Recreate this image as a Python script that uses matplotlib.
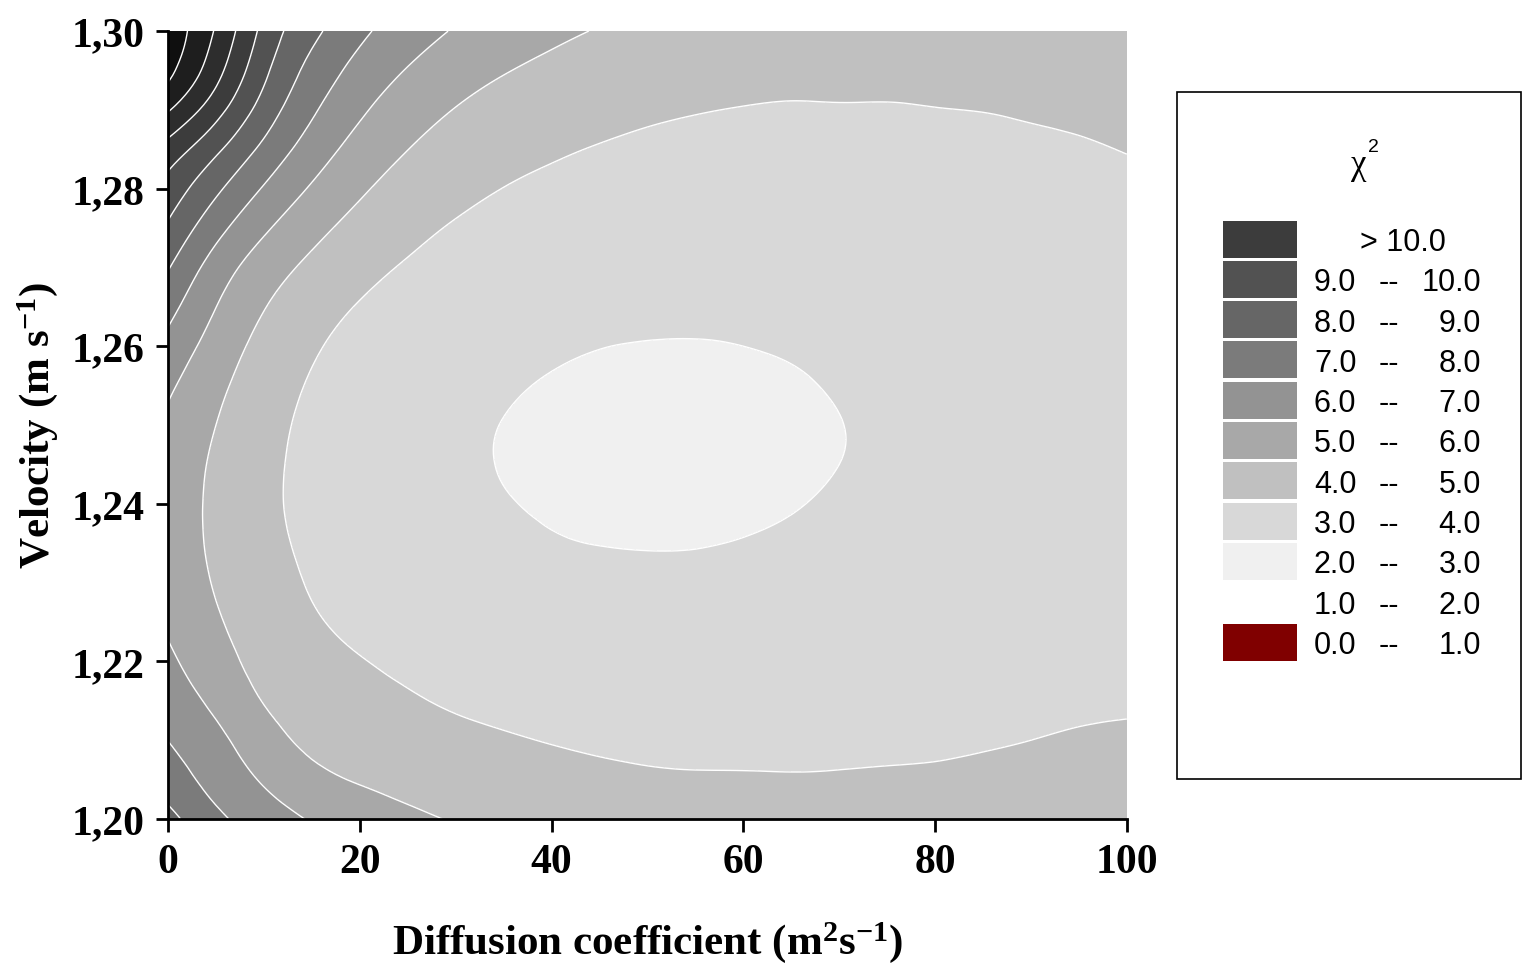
import numpy as np
import matplotlib
matplotlib.use("Agg")
import matplotlib.pyplot as plt
import matplotlib.tri as mtri
from matplotlib.patches import Rectangle

# Chi-square surface over diffusion coefficient (columns) and velocity (rows)
diffusion = [0, 5, 10, 15, 20, 25, 30, 35, 40, 45, 50, 55, 60, 65, 70, 75, 80, 85, 90, 95, 100]
velocity = [1.200, 1.205, 1.210, 1.215, 1.220, 1.225, 1.230, 1.235, 1.240, 1.245, 1.250,
            1.255, 1.260, 1.265, 1.270, 1.275, 1.280, 1.285, 1.290, 1.295, 1.300]
chi2 = [
    [8.32, 7.22, 6.50, 5.92, 5.48, 5.17, 4.94, 4.73, 4.56, 4.43, 4.33, 4.26, 4.21, 4.20, 4.21, 4.23, 4.26, 4.30, 4.36, 4.42, 4.45],
    [7.52, 6.65, 5.90, 5.28, 4.93, 4.72, 4.54, 4.38, 4.25, 4.15, 4.08, 4.05, 4.04, 4.03, 4.04, 4.06, 4.08, 4.12, 4.18, 4.24, 4.28],
    [6.99, 6.24, 5.41, 4.78, 4.50, 4.34, 4.19, 4.07, 3.97, 3.90, 3.86, 3.85, 3.86, 3.87, 3.88, 3.89, 3.91, 3.95, 4.00, 4.06, 4.09],
    [6.56, 5.77, 4.96, 4.46, 4.23, 4.07, 3.92, 3.81, 3.73, 3.69, 3.66, 3.66, 3.68, 3.69, 3.71, 3.73, 3.76, 3.79, 3.84, 3.89, 3.93],
    [6.18, 5.38, 4.68, 4.25, 4.03, 3.86, 3.71, 3.60, 3.53, 3.50, 3.48, 3.48, 3.50, 3.53, 3.55, 3.58, 3.62, 3.65, 3.70, 3.74, 3.78],
    [5.87, 5.11, 4.50, 4.08, 3.84, 3.67, 3.52, 3.42, 3.35, 3.32, 3.31, 3.31, 3.33, 3.36, 3.41, 3.45, 3.49, 3.53, 3.57, 3.62, 3.65],
    [5.64, 4.93, 4.36, 3.94, 3.67, 3.49, 3.36, 3.26, 3.19, 3.16, 3.14, 3.13, 3.16, 3.21, 3.27, 3.33, 3.37, 3.42, 3.47, 3.51, 3.55],
    [5.49, 4.84, 4.26, 3.83, 3.54, 3.35, 3.22, 3.13, 3.04, 2.99, 2.97, 2.98, 3.02, 3.09, 3.16, 3.22, 3.28, 3.33, 3.38, 3.42, 3.46],
    [5.48, 4.82, 4.21, 3.75, 3.45, 3.26, 3.13, 3.03, 2.94, 2.89, 2.86, 2.87, 2.90, 2.97, 3.07, 3.15, 3.21, 3.27, 3.32, 3.36, 3.40],
    [5.60, 4.86, 4.23, 3.75, 3.43, 3.22, 3.09, 2.98, 2.89, 2.84, 2.81, 2.81, 2.85, 2.91, 3.00, 3.10, 3.17, 3.23, 3.28, 3.32, 3.36],
    [5.82, 5.00, 4.32, 3.80, 3.46, 3.24, 3.10, 2.99, 2.90, 2.84, 2.81, 2.81, 2.84, 2.90, 2.99, 3.09, 3.17, 3.23, 3.28, 3.32, 3.35],
    [6.17, 5.23, 4.48, 3.92, 3.55, 3.31, 3.16, 3.06, 2.96, 2.90, 2.87, 2.86, 2.89, 2.95, 3.04, 3.12, 3.19, 3.25, 3.30, 3.35, 3.38],
    [6.70, 5.58, 4.71, 4.11, 3.71, 3.45, 3.28, 3.17, 3.08, 3.01, 2.98, 2.97, 3.00, 3.05, 3.12, 3.19, 3.25, 3.31, 3.36, 3.40, 3.44],
    [7.34, 6.01, 5.04, 4.39, 3.95, 3.65, 3.45, 3.31, 3.21, 3.15, 3.13, 3.14, 3.15, 3.18, 3.23, 3.28, 3.33, 3.39, 3.44, 3.48, 3.52],
    [8.07, 6.56, 5.50, 4.79, 4.28, 3.92, 3.67, 3.50, 3.39, 3.32, 3.29, 3.29, 3.30, 3.32, 3.35, 3.39, 3.44, 3.49, 3.54, 3.58, 3.62],
    [8.85, 7.34, 6.15, 5.30, 4.68, 4.24, 3.93, 3.73, 3.59, 3.51, 3.46, 3.45, 3.45, 3.46, 3.49, 3.52, 3.56, 3.60, 3.65, 3.70, 3.74],
    [9.62, 8.20, 6.92, 5.90, 5.14, 4.60, 4.24, 3.99, 3.83, 3.72, 3.65, 3.62, 3.61, 3.62, 3.64, 3.66, 3.69, 3.73, 3.78, 3.82, 3.87],
    [10.62, 9.20, 7.76, 6.54, 5.64, 5.01, 4.58, 4.30, 4.10, 3.96, 3.86, 3.81, 3.79, 3.79, 3.80, 3.82, 3.84, 3.87, 3.91, 3.95, 4.02],
    [12.09, 10.38, 8.58, 7.15, 6.15, 5.46, 4.97, 4.65, 4.42, 4.25, 4.12, 4.03, 3.98, 3.96, 3.97, 3.97, 3.99, 4.01, 4.05, 4.10, 4.18],
    [13.26, 11.36, 9.23, 7.70, 6.67, 5.95, 5.42, 5.05, 4.79, 4.58, 4.42, 4.29, 4.21, 4.15, 4.13, 4.13, 4.15, 4.19, 4.22, 4.27, 4.34],
    [13.62, 11.90, 9.72, 8.25, 7.22, 6.48, 5.92, 5.50, 5.19, 4.95, 4.74, 4.58, 4.46, 4.37, 4.31, 4.30, 4.33, 4.37, 4.42, 4.47, 4.50],
]

levels = list(range(0, 15))
fill_colors = ["#800000", "#ffffff", "#f0f0f0", "#d8d8d8", "#c0c0c0", "#a8a8a8", "#939393",
               "#7b7b7b", "#666666", "#525252", "#3c3c3c", "#2d2d2d", "#1e1e1e", "#0f0f0f"]

# legend classes
leg_lo = ["", "9.0", "8.0", "7.0", "6.0", "5.0", "4.0", "3.0", "2.0", "1.0", "0.0"]
leg_hi = ["", "10.0", "9.0", "8.0", "7.0", "6.0", "5.0", "4.0", "3.0", "2.0", "1.0"]
leg_col = ["#3c3c3c", "#525252", "#666666", "#7b7b7b", "#939393", "#a8a8a8",
           "#c0c0c0", "#d8d8d8", "#f0f0f0", "#ffffff", "#800000"]

yticks = [1.20, 1.22, 1.24, 1.26, 1.28, 1.30]
ytick_labels = ["1,20", "1,22", "1,24", "1,26", "1,28", "1,30"]
xticks = [0, 20, 40, 60, 80, 100]

plt.rcParams["mathtext.fontset"] = "custom"
plt.rcParams["mathtext.rm"] = "Liberation Serif:bold"
plt.rcParams["mathtext.it"] = "Liberation Serif:bold"
plt.rcParams["mathtext.bf"] = "Liberation Serif:bold"

fig = plt.figure(figsize=(15.3, 9.7), dpi=100)
ax = fig.add_axes([168 / 1530, 1 - 820 / 970, (1127 - 168) / 1530, (820 - 32) / 970])

# grid -> triangles, then cubic refinement for smooth contours
Z = np.array(chi2)
GD, GV = np.meshgrid(diffusion, velocity)
ny, nx = Z.shape
tris = []
for i in range(ny - 1):
    for j in range(nx - 1):
        k = i * nx + j
        tris.append([k, k + 1, k + nx + 1])
        tris.append([k, k + nx + 1, k + nx])
tri = mtri.Triangulation(GD.ravel(), (GV.ravel() - 1.2) * 1000, np.array(tris))
tri_r, z_r = mtri.UniformTriRefiner(tri).refine_field(Z.ravel(), subdiv=3)
tri_v = mtri.Triangulation(tri_r.x, 1.2 + tri_r.y / 1000, tri_r.triangles)

ax.tricontourf(tri_v, z_r, levels=levels, colors=fill_colors)
ax.tricontour(tri_v, z_r, levels=levels[1:], colors="white", linewidths=1.0)

ax.set_xlim(0, 100)
ax.set_ylim(1.20, 1.30)
for s in ["top", "right"]:
    ax.spines[s].set_visible(False)
for s in ["left", "bottom"]:
    ax.spines[s].set_linewidth(2)
ax.set_xticks(xticks)
ax.set_yticks(yticks)
ax.set_yticklabels(ytick_labels)
ax.tick_params(direction="out", length=9, width=2, pad=8)
for lab in ax.get_xticklabels() + ax.get_yticklabels():
    lab.set_fontfamily("Liberation Serif")
    lab.set_fontweight("bold")
    lab.set_fontsize(30)

fig.text(647 / 1530, 1 - 943 / 970, r"Diffusion coefficient (m$^{2}$s$^{-1}$)",
         family="Liberation Serif", weight="bold", fontsize=31, ha="center", va="center")
fig.text(38 / 1530, 1 - 426 / 970, r"Velocity (m s$^{-1}$)", rotation=90,
         family="Liberation Serif", weight="bold", fontsize=31, ha="center", va="center")

# legend panel, laid out in pixel units
lg = fig.add_axes([0, 0, 1, 1])
lg.set_xlim(0, 1530)
lg.set_ylim(970, 0)
lg.axis("off")
lg.add_patch(Rectangle((1177, 93), 344, 687, fill=False, ec="black", lw=1.2))
lg.text(1359, 166, "\u03c7", family="Liberation Serif", fontsize=25, ha="center", va="center")
lg.text(1368, 148, "2", family="Liberation Sans", fontsize=14, ha="left", va="center")

for i in range(len(leg_col)):
    yc = 240 + i * 40.3
    ty = yc + 3
    lg.add_patch(Rectangle((1223, yc - 18.5), 74, 37, fc=leg_col[i], ec="none"))
    if i == 0:
        lg.text(1360, ty, "> 10.0", family="Liberation Sans", fontsize=22, ha="left", va="center")
    else:
        lg.text(1314, ty, leg_lo[i], family="Liberation Sans", fontsize=22, ha="left", va="center")
        lg.text(1389, ty, "--", family="Liberation Sans", fontsize=22, ha="center", va="center")
        lg.text(1481, ty, leg_hi[i], family="Liberation Sans", fontsize=22, ha="right", va="center")

fig.savefig("out.png")
